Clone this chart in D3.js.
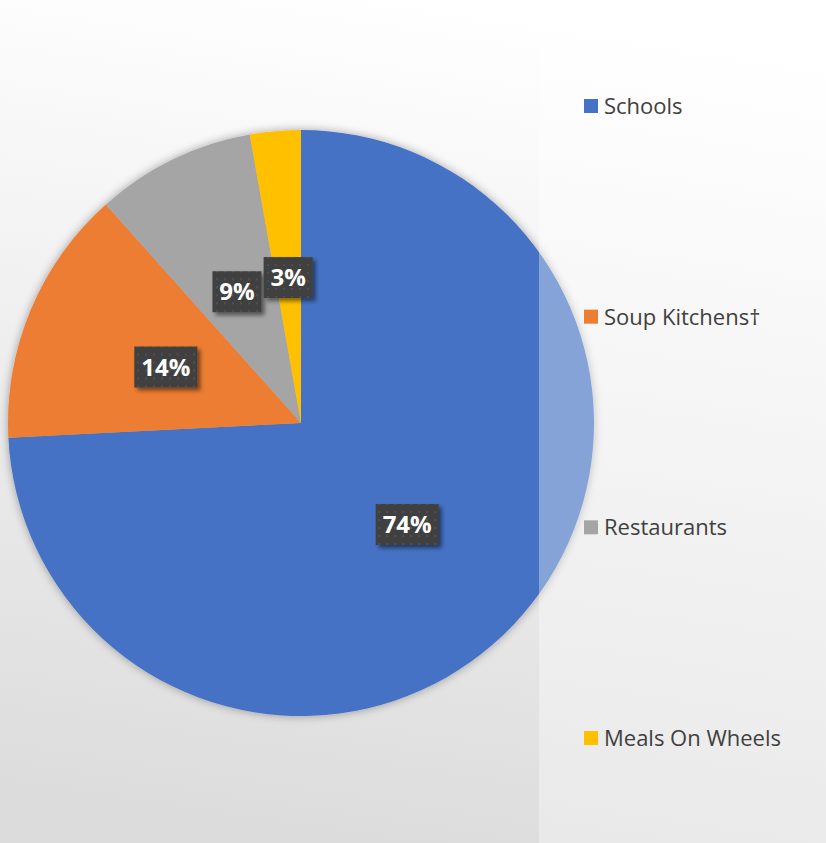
<!DOCTYPE html>
<html>
<head>
<meta charset="utf-8">
<script src="https://cdn.jsdelivr.net/npm/d3@7"></script>
<style>
  html, body { margin: 0; padding: 0; }
  svg { display: block; }
</style>
</head>
<body>
<script>
// chart data (labels are shown rounded)
const categories = ['Schools', 'Soup Kitchens\u2020', 'Restaurants', 'Meals On Wheels'];
const shares = [74.2, 14.2, 8.8, 2.8];
const colors = ['#4472C4', '#ED7D31', '#A5A5A5', '#FFC000'];

const width = 826, height = 843;
const cx = 301, cy = 423, radius = 293;

const svg = d3.select('body').append('svg')
    .attr('width', width)
    .attr('height', height);

const defs = svg.append('defs');

// background gradient, white on top to light grey below
const bg = defs.append('linearGradient')
    .attr('id', 'bg')
    .attr('x1', 0.55).attr('y1', 0)
    .attr('x2', 0.4).attr('y2', 1);
bg.append('stop').attr('offset', 0).attr('stop-color', '#ffffff');
bg.append('stop').attr('offset', 0.12).attr('stop-color', '#fbfbfb');
bg.append('stop').attr('offset', 1).attr('stop-color', '#dcdcdc');

// soft shadow round the pie
const pieShadow = defs.append('filter').attr('id', 'pieShadow')
    .attr('x', -0.1).attr('y', -0.1).attr('width', 1.2).attr('height', 1.2);
pieShadow.append('feGaussianBlur').attr('in', 'SourceAlpha').attr('stdDeviation', 5).attr('result', 'b');
pieShadow.append('feComponentTransfer').attr('in', 'b').attr('result', 's')
    .append('feFuncA').attr('type', 'linear').attr('slope', 0.35);
const pm = pieShadow.append('feMerge');
pm.append('feMergeNode').attr('in', 's');
pm.append('feMergeNode').attr('in', 'SourceGraphic');

// shadow under the label boxes
const boxShadow = defs.append('filter').attr('id', 'boxShadow')
    .attr('x', -0.3).attr('y', -0.3).attr('width', 1.6).attr('height', 1.6);
boxShadow.append('feGaussianBlur').attr('in', 'SourceAlpha').attr('stdDeviation', 2).attr('result', 'b');
boxShadow.append('feOffset').attr('in', 'b').attr('dx', 3).attr('dy', 3).attr('result', 'o');
boxShadow.append('feComponentTransfer').attr('in', 'o').attr('result', 's')
    .append('feFuncA').attr('type', 'linear').attr('slope', 0.5);
const bm = boxShadow.append('feMerge');
bm.append('feMergeNode').attr('in', 's');
bm.append('feMergeNode').attr('in', 'SourceGraphic');

// dotted texture for the label boxes
const dots = defs.append('pattern')
    .attr('id', 'dots')
    .attr('patternUnits', 'userSpaceOnUse')
    .attr('width', 8).attr('height', 8);
dots.append('rect').attr('width', 8).attr('height', 8).attr('fill', '#404040');
dots.append('rect').attr('x', 3).attr('y', 3).attr('width', 2).attr('height', 2).attr('fill', '#505050');

svg.append('rect')
    .attr('width', width).attr('height', height)
    .attr('fill', 'url(#bg)');

const pie = d3.pie().sort(null).value((d) => d);
const arc = d3.arc().innerRadius(0).outerRadius(radius);
const arcs = pie(shares);

const g = svg.append('g').attr('transform', `translate(${cx},${cy})`);

g.append('g')
    .attr('filter', 'url(#pieShadow)')
    .selectAll('path')
    .data(arcs)
    .enter()
    .append('path')
    .attr('d', arc)
    .attr('fill', (d, i) => colors[i]);

// legend panel, a half-transparent white box over the right side
svg.append('rect')
    .attr('x', 539).attr('y', 2)
    .attr('width', width - 539).attr('height', height - 2)
    .attr('fill', '#ffffff')
    .attr('fill-opacity', 0.35);

// data labels
const labels = g.append('g').selectAll('g')
    .data(arcs)
    .enter()
    .append('g')
    .attr('transform', (d) => `translate(${arc.centroid(d)})`);

labels.each(function(d) {
    const sel = d3.select(this);
    const txt = Math.round(d.data) + '%';
    const w = txt.length === 2 ? 49 : 63;
    sel.append('rect')
        .attr('x', -w / 2).attr('y', -20)
        .attr('width', w).attr('height', 41)
        .attr('fill', 'url(#dots)')
        .attr('filter', 'url(#boxShadow)');
    sel.append('text')
        .attr('text-anchor', 'middle')
        .attr('y', 9)
        .attr('font-family', 'Open Sans, Noto Sans, sans-serif')
        .attr('font-weight', 'bold')
        .attr('font-size', 24)
        .attr('fill', '#ffffff')
        .text(txt);
});

// legend
const legendY = d3.scalePoint()
    .domain(categories)
    .range([106, 738]);

const legend = svg.append('g').selectAll('g')
    .data(categories)
    .enter()
    .append('g')
    .attr('transform', (d) => `translate(584,${legendY(d)})`);

legend.append('rect')
    .attr('x', 0).attr('y', -7)
    .attr('width', 14).attr('height', 14)
    .attr('fill', (d, i) => colors[i]);

legend.append('text')
    .attr('x', 20)
    .attr('y', 8)
    .attr('font-family', 'Open Sans, Noto Sans, sans-serif')
    .attr('font-size', 22)
    .attr('fill', '#404040')
    .text((d) => d);
</script>
</body>
</html>
